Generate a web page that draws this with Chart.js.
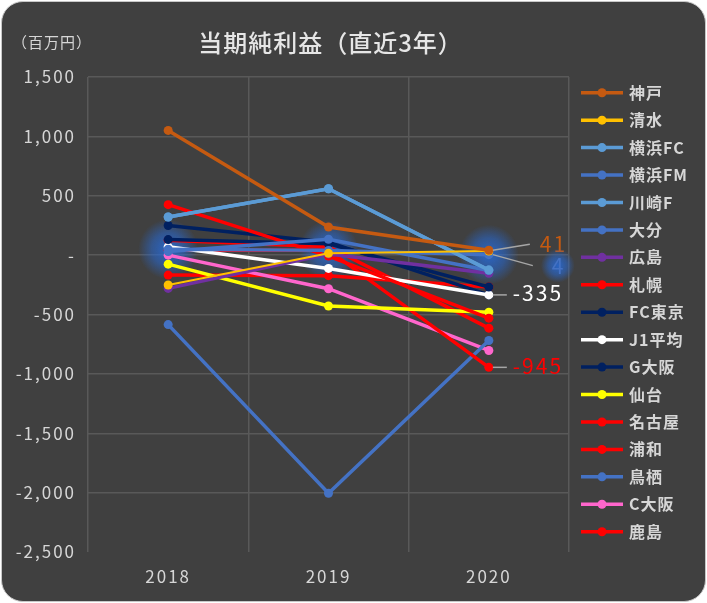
<!doctype html>
<html lang="ja">
  <head>
    <meta charset="utf-8">
    <title>当期純利益（直近3年）</title>
    <style>
      * {
        margin: 0;
        padding: 0;
      }
      body {
        background: #fff;
        width: 707px;
        height: 603px;
        overflow: hidden;
      }
      .chartCard {
        position: absolute;
        left: 1px;
        top: 1px;
        width: 703px;
        height: 599px;
        background: #404040;
        border: 1px solid #c8c8c8;
        border-radius: 22px;
      }
      #myChart {
        position: absolute;
        left: 0;
        top: 0;
      }
    </style>
  </head>
  <body>
    <div class="chartCard"></div>
    <canvas id="myChart" width="707" height="603"></canvas>
    <script src="https://cdn.jsdelivr.net/npm/chart.js/dist/chart.umd.min.js"></script>
    <script>
    // data (百万円)
    const years = ['2018', '2019', '2020'];
    const teams = ['神戸', '清水', '横浜FC', '横浜FM', '川崎F', '大分', '広島', '札幌', 'FC東京',
                   'J1平均', 'G大阪', '仙台', '名古屋', '浦和', '鳥栖', 'C大阪', '鹿島'];
    const kobe     = [1050, 237, 41];
    const shimizu  = [-252, 15, 35];
    const yokohamaFC = [321, 559, -126];
    const yokohamaFM = [30, 134, -130];
    const kawasaki = [321, 559, -126];
    const oita     = [50, 40, 4];
    const hiroshima = [-280, 10, -153];
    const sapporo  = [425, -8, -531];
    const fcTokyo  = [131, 95, -268];
    const j1Avg    = [70, -112, -335];
    const gOsaka   = [249, 109, -335];
    const sendai   = [-76, -428, -481];
    const nagoya   = [126, 70, -615];
    const urawa    = [42, 42, -945];
    const tosu     = [-585, -2005, -719];
    const cOsaka   = [0, -283, -803];
    const kashima  = [-168, -173, -268];
    const yTicks = [1500, 1000, 500, 0, -500, -1000, -1500, -2000, -2500];

    const seriesValues = [kobe, shimizu, yokohamaFC, yokohamaFM, kawasaki, oita, hiroshima, sapporo,
                          fcTokyo, j1Avg, gOsaka, sendai, nagoya, urawa, tosu, cOsaka, kashima];
    const lineColors = ['#C55A11', '#FFC000', '#5B9BD5', '#4472C4', '#5B9BD5', '#4472C4', '#7030A0', '#FF0000',
                        '#002060', '#FFFFFF', '#002060', '#FFFF00', '#FF0000', '#FF0000', '#4472C4', '#FF66CC', '#FF0000'];

    const FONT = '"Noto Sans CJK JP", "Noto Sans", sans-serif';
    const TEXT = '#d6d6d6';

    // value labels at the 2020 end of some lines
    const endLabels = [
      { team: '神戸',   color: '#C55A11', lead: [41, -6], dx: 51, dy: -6 },
      { team: '大分',   color: '#4472C4', lead: [44, 11], dx: 63, dy: 11, glow: true },
      { team: 'J1平均', color: '#FFFFFF', lead: [18, 0], dx: 24, dy: -2 },
      { team: '浦和',   color: '#FF0000', lead: [18, 0], dx: 24, dy: -1 },
    ];

    function drawGlow(ctx, x, y, r, a) {
      const g = ctx.createRadialGradient(x, y, 0, x, y, r);
      g.addColorStop(0, `rgba(40,105,210,${a})`);
      g.addColorStop(0.55, `rgba(40,105,210,${a * 0.6})`);
      g.addColorStop(1, 'rgba(40,105,210,0)');
      ctx.fillStyle = g;
      ctx.beginPath();
      ctx.arc(x, y, r, 0, Math.PI * 2);
      ctx.fill();
    }

    const glowPlugin = {
      id: 'glowPlugin',
      beforeDraw: (chart) => {
        chart.ctx.letterSpacing = '2px';
      },
      beforeDatasetsDraw: (chart) => {
        const { ctx } = chart;
        const meta = chart.getDatasetMeta(teams.indexOf('大分'));
        ctx.save();
        meta.data.forEach(pt => drawGlow(ctx, pt.x, pt.y, 30, 0.9));
        ctx.restore();
      }
    };

    const labelPlugin = {
      id: 'labelPlugin',
      afterDatasetsDraw: (chart) => {
        const { ctx } = chart;
        ctx.save();
        endLabels.forEach(l => {
          const idx = teams.indexOf(l.team);
          const pt = chart.getDatasetMeta(idx).data[2];
          const val = seriesValues[idx][2];
          ctx.strokeStyle = '#a6a6a6';
          ctx.lineWidth = 1.5;
          ctx.beginPath();
          ctx.moveTo(pt.x + 4, pt.y);
          ctx.lineTo(pt.x + l.lead[0], pt.y + l.lead[1]);
          ctx.stroke();
          if (l.glow) drawGlow(ctx, pt.x + l.dx + 6, pt.y + l.dy, 17, 0.9);
          ctx.font = '21px ' + FONT;
          ctx.letterSpacing = '2px';
          ctx.fillStyle = l.color;
          ctx.textAlign = 'left';
          ctx.textBaseline = 'middle';
          ctx.fillText(val.toLocaleString('en-US'), pt.x + l.dx, pt.y + l.dy);
        });
        ctx.restore();
      }
    };

    const decoPlugin = {
      id: 'decoPlugin',
      afterDraw: (chart) => {
        const { ctx, chartArea } = chart;
        ctx.save();
        ctx.letterSpacing = '1px';
        ctx.textBaseline = 'middle';
        // title
        ctx.font = '500 24px ' + FONT;
        ctx.fillStyle = '#e6e6e6';
        ctx.textAlign = 'center';
        ctx.fillText('当期純利益（直近3年）', (chartArea.left + chartArea.right) / 2 + 2, 43);
        // unit
        ctx.font = '15px ' + FONT;
        ctx.fillStyle = TEXT;
        ctx.textAlign = 'left';
        ctx.fillText('（百万円）', 12, 42);
        // legend
        teams.forEach((t, i) => {
          const y = 92.7 + i * 27.44;
          ctx.strokeStyle = lineColors[i];
          ctx.lineWidth = 3.5;
          ctx.beginPath();
          ctx.moveTo(581, y);
          ctx.lineTo(623, y);
          ctx.stroke();
          ctx.fillStyle = lineColors[i];
          ctx.beginPath();
          ctx.arc(602, y, 4.5, 0, Math.PI * 2);
          ctx.fill();
          ctx.font = 'bold 16px ' + FONT;
          ctx.fillStyle = TEXT;
          ctx.fillText(t, 629, y);
        });
        ctx.restore();
      }
    };

    const data = {
      labels: years,
      datasets: teams.map((t, i) => ({
        label: t,
        data: seriesValues[i],
        borderColor: lineColors[i],
        backgroundColor: lineColors[i],
        borderWidth: t === '清水' ? 2 : 3.5,
        pointRadius: 4.5,
        pointBorderWidth: 0,
        pointHoverRadius: 4.5,
        tension: 0,
      }))
    };

    const config = {
      type: 'line',
      data: data,
      options: {
        responsive: false,
        animation: false,
        events: [],
        layout: { padding: { left: 0, top: 77, right: 138, bottom: 0 } },
        scales: {
          x: {
            offset: true,
            grid: { offset: true, color: '#595959', lineWidth: 1.5, drawTicks: false },
            border: { display: false },
            ticks: { color: TEXT, padding: 14, font: { family: FONT, size: 17 } },
            afterFit: (scale) => { scale.height = 51; }
          },
          y: {
            min: -2500,
            max: 1500,
            afterBuildTicks: (scale) => { scale.ticks = yTicks.map(v => ({ value: v })); },
            grid: {
              color: (c) => (c.tick && c.tick.value === -2500) ? 'rgba(0,0,0,0)' : '#595959',
              lineWidth: 1.5,
              drawTicks: false
            },
            border: { display: false },
            ticks: {
              color: TEXT,
              padding: 12,
              font: { family: FONT, size: 17 },
              callback: (value) => value === 0 ? '-' : value.toLocaleString('en-US')
            },
            afterFit: (scale) => { scale.width = 88; }
          }
        },
        plugins: {
          legend: { display: false },
          title: { display: false },
          tooltip: { enabled: false }
        }
      },
      plugins: [glowPlugin, labelPlugin, decoPlugin]
    };

    const myChart = new Chart(document.getElementById('myChart'), config);
    </script>
  </body>
</html>
